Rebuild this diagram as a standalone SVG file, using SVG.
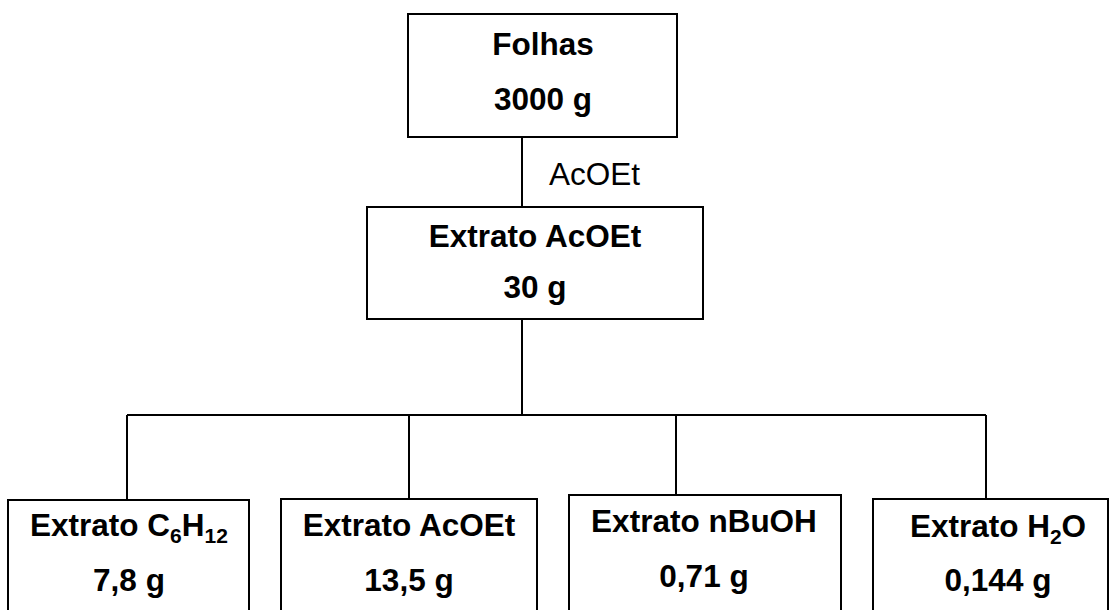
<svg xmlns="http://www.w3.org/2000/svg" width="1110" height="610" viewBox="0 0 1110 610">
<style>
.box{fill:#fff;stroke:#000;stroke-width:2}
.ln{stroke:#000;stroke-width:2;fill:none}
.t{font-family:"Liberation Sans",Arial,sans-serif;font-size:31.5px;font-weight:bold;fill:#000;text-anchor:middle}
.r{font-family:"Liberation Sans",Arial,sans-serif;font-size:31.5px;fill:#000}
.sub{font-size:21px}
</style>
<rect width="1110" height="610" fill="#fff"/>
<g id="connectors">
<line class="ln" x1="522" y1="137" x2="522" y2="207"/>
<line class="ln" x1="522" y1="319" x2="522" y2="415"/>
<line class="ln" x1="127" y1="415" x2="986" y2="415"/>
<line class="ln" x1="127" y1="415" x2="127" y2="500"/>
<line class="ln" x1="409" y1="415" x2="409" y2="499"/>
<line class="ln" x1="676" y1="415" x2="676" y2="495"/>
<line class="ln" x1="986" y1="415" x2="986" y2="499"/>
<text class="r" x="549" y="185">AcOEt</text>
</g>
<g id="folhas">
<rect class="box" x="408" y="14" width="269" height="123"/>
<text class="t" x="543" y="55">Folhas</text>
<text class="t" x="543" y="110">3000 g</text>
</g>
<g id="extrato-acoet">
<rect class="box" x="367" y="207" width="336" height="112"/>
<text class="t" x="535" y="247">Extrato AcOEt</text>
<text class="t" x="535" y="298">30 g</text>
</g>
<g id="extrato-c6h12">
<rect class="box" x="8" y="500" width="241" height="130"/>
<text class="t" x="129" y="536">Extrato C<tspan class="sub" dy="7">6</tspan><tspan dy="-7">H</tspan><tspan class="sub" dy="7">12</tspan></text>
<text class="t" x="129" y="591">7,8 g</text>
</g>
<g id="extrato-acoet-2">
<rect class="box" x="281" y="499" width="256" height="130"/>
<text class="t" x="409" y="536">Extrato AcOEt</text>
<text class="t" x="409" y="591">13,5 g</text>
</g>
<g id="extrato-nbuoh">
<rect class="box" x="569" y="495" width="272" height="130"/>
<text class="t" x="704" y="532">Extrato nBuOH</text>
<text class="t" x="704" y="587">0,71 g</text>
</g>
<g id="extrato-h2o">
<rect class="box" x="873" y="499" width="235" height="130"/>
<text class="t" x="998" y="537">Extrato H<tspan class="sub" dy="7">2</tspan><tspan dy="-7">O</tspan></text>
<text class="t" x="998" y="591">0,144 g</text>
</g>
</svg>
